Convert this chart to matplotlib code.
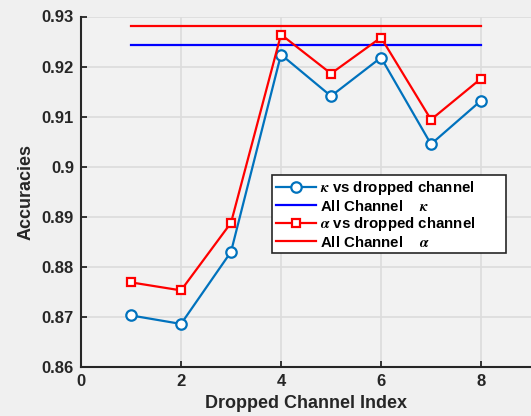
import matplotlib
matplotlib.use("Agg")
import matplotlib.pyplot as plt

# data
channels = [1, 2, 3, 4, 5, 6, 7, 8]
kappa_dropped = [0.8703, 0.8686, 0.8830, 0.9224, 0.9141, 0.9218, 0.9045, 0.9132]
alpha_dropped = [0.8769, 0.8753, 0.8888, 0.9264, 0.9186, 0.9258, 0.9094, 0.9176]
kappa_all = 0.9244
alpha_all = 0.9282

x_ticks = [0, 2, 4, 6, 8]
y_ticks = [0.86, 0.87, 0.88, 0.89, 0.9, 0.91, 0.92, 0.93]
y_labels = ["0.86", "0.87", "0.88", "0.89", "0.9", "0.91", "0.92", "0.93"]

plt.rcParams['font.family'] = ['Liberation Sans', 'DejaVu Sans']
plt.rcParams['font.weight'] = 'bold'
plt.rcParams['mathtext.fontset'] = 'stix'

fig = plt.figure(figsize=(5.31, 4.16), dpi=100, facecolor='#f0f0f0')
ax = fig.add_axes([81 / 531, (416 - 367) / 416, 450 / 531, 350.5 / 416])
ax.set_facecolor('#f2f2f2')

ax.plot(channels, kappa_dropped, '-o', color='#0072BD', lw=1.6, ms=7.5,
        mfc='white', mew=1.6, label=r'$\kappa$ vs dropped channel')
ax.plot([channels[0], channels[-1]], [kappa_all, kappa_all], '-', color='#0000FF',
        lw=1.6, label=r'All Channel    $\kappa$')
ax.plot(channels, alpha_dropped, '-s', color='#FF0000', lw=1.6, ms=5.5,
        mfc='white', mew=1.6, label=r'$\alpha$ vs dropped channel')
ax.plot([channels[0], channels[-1]], [alpha_all, alpha_all], '-', color='#FF0000',
        lw=1.6, label=r'All Channel    $\alpha$')

ax.set_xlim(0, 9)
ax.set_ylim(0.86, 0.93)
ax.set_xticks(x_ticks)
ax.set_yticks(y_ticks)
ax.set_yticklabels(y_labels)
ax.tick_params(direction='in', length=4, width=1.3, color='#262626',
               labelsize=12, labelcolor='#262626', pad=5)
for lab in ax.get_xticklabels() + ax.get_yticklabels():
    lab.set_fontweight('bold')

ax.grid(True, color='#dcdcdc', lw=1.2)
ax.set_axisbelow(True)
for side in ['top', 'right']:
    ax.spines[side].set_visible(False)
for side in ['left', 'bottom']:
    ax.spines[side].set_linewidth(1.5)
    ax.spines[side].set_color('#262626')

ax.set_xlabel('Dropped Channel Index', fontsize=13, fontweight='bold', color='#262626', labelpad=4)
ax.set_ylabel('Accuracies', fontsize=13, fontweight='bold', color='#262626', labelpad=5)

# legend box stretched to the width seen in the reference
leg = ax.legend(loc='upper left', bbox_to_anchor=(0.424, 0.317, 0.52, 0.23),
                mode='expand', fontsize=10.8,
                frameon=True, fancybox=False, borderpad=0.25, labelspacing=0.1,
                handlelength=2.7, handletextpad=0.25, borderaxespad=0)
leg.get_frame().set_edgecolor('#262626')
leg.get_frame().set_linewidth(1.2)
leg.get_frame().set_facecolor('white')
leg.get_frame().set_alpha(1)
for t in leg.get_texts():
    t.set_fontweight('bold')

fig.savefig('out.png', dpi=100, facecolor=fig.get_facecolor())
